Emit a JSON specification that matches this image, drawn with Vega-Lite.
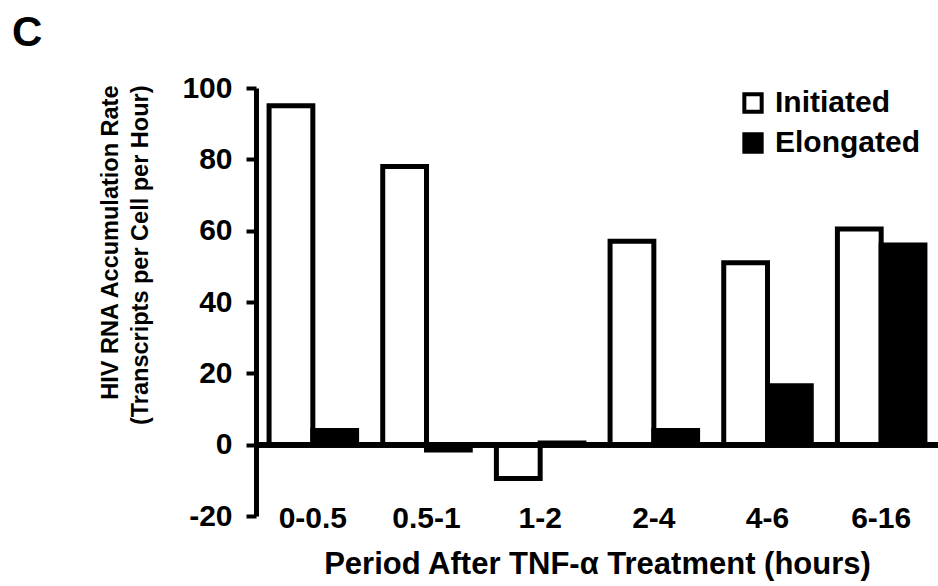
{
  "$schema": "https://vega.github.io/schema/vega-lite/v6.json",
  "autosize": "none",
  "width": 682,
  "height": 428,
  "padding": {"left": 256, "top": 88, "right": 0, "bottom": 70},
  "background": "white",
  "title": {"text": "C", "anchor": "start", "frame": "group", "fontSize": 42, "fontWeight": "bold", "font": "Liberation Sans", "color": "black", "dx": -244, "dy": 19, "baseline": "alphabetic"},
  "data": {"values": [
    {"period": "0-0.5", "series": "Initiated", "value": 95},
    {"period": "0-0.5", "series": "Elongated", "value": 4},
    {"period": "0.5-1", "series": "Initiated", "value": 78},
    {"period": "0.5-1", "series": "Elongated", "value": -1.5},
    {"period": "1-2", "series": "Initiated", "value": -9.5},
    {"period": "1-2", "series": "Elongated", "value": 0.5},
    {"period": "2-4", "series": "Initiated", "value": 57},
    {"period": "2-4", "series": "Elongated", "value": 4},
    {"period": "4-6", "series": "Initiated", "value": 51},
    {"period": "4-6", "series": "Elongated", "value": 16.5},
    {"period": "6-16", "series": "Initiated", "value": 60.5},
    {"period": "6-16", "series": "Elongated", "value": 56}
  ]},
  "layer": [
    {
      "mark": {"type": "bar", "stroke": "black", "strokeWidth": 5, "strokeJoin": "miter"},
      "encoding": {
        "x": {
          "field": "period", "type": "nominal", "sort": null,
          "scale": {"paddingInner": 0.23, "paddingOuter": 0.115},
          "axis": {"title": "Period After TNF-\u03b1 Treatment (hours)", "labelAngle": 0, "domain": false, "ticks": false, "tickSize": 0,
            "labelFontSize": 30, "labelBaseline": "alphabetic", "labelPadding": 11,
            "titleFontSize": 31, "titleBaseline": "alphabetic", "titleY": 57}
        },
        "xOffset": {"field": "series", "type": "nominal", "sort": ["Initiated", "Elongated"]},
        "y": {
          "field": "value", "type": "quantitative",
          "scale": {"domain": [-20, 100], "nice": false, "zero": false},
          "axis": {"title": ["HIV RNA Accumulation Rate", "(Transcripts per Cell per Hour)"], "values": [-20, 0, 20, 40, 60, 80, 100],
            "labelExpr": "'' + datum.value",
            "domainWidth": 5, "tickWidth": 4, "tickSize": 10, "labelFontSize": 30, "labelPadding": 14,
            "titleFontSize": 23.5, "titleAngle": -90, "titleAlign": "right", "titleBaseline": "alphabetic", "titleLineHeight": 30,
            "titleX": -139, "titleY": -3}
        },
        "fill": {
          "field": "series", "type": "nominal",
          "scale": {"domain": ["Initiated", "Elongated"], "range": ["white", "black"]},
          "legend": {"title": null, "orient": "none", "legendX": 482, "legendY": 0, "symbolType": "square", "symbolSize": 300,
            "symbolStrokeColor": "black", "symbolStrokeWidth": 4, "labelFontSize": 30, "labelOffset": 7, "rowPadding": 6, "padding": 0}
        }
      }
    },
    {
      "mark": {"type": "rule", "color": "black", "strokeWidth": 5},
      "encoding": {"y": {"datum": 0}}
    }
  ],
  "config": {
    "view": {"stroke": null},
    "font": "Liberation Sans",
    "axis": {"grid": false, "domainColor": "black", "tickColor": "black", "labelColor": "black", "titleColor": "black",
      "labelFont": "Liberation Sans", "titleFont": "Liberation Sans", "labelFontWeight": "bold", "titleFontWeight": "bold"},
    "legend": {"labelFont": "Liberation Sans", "labelFontWeight": "bold", "labelColor": "black"}
  }
}
